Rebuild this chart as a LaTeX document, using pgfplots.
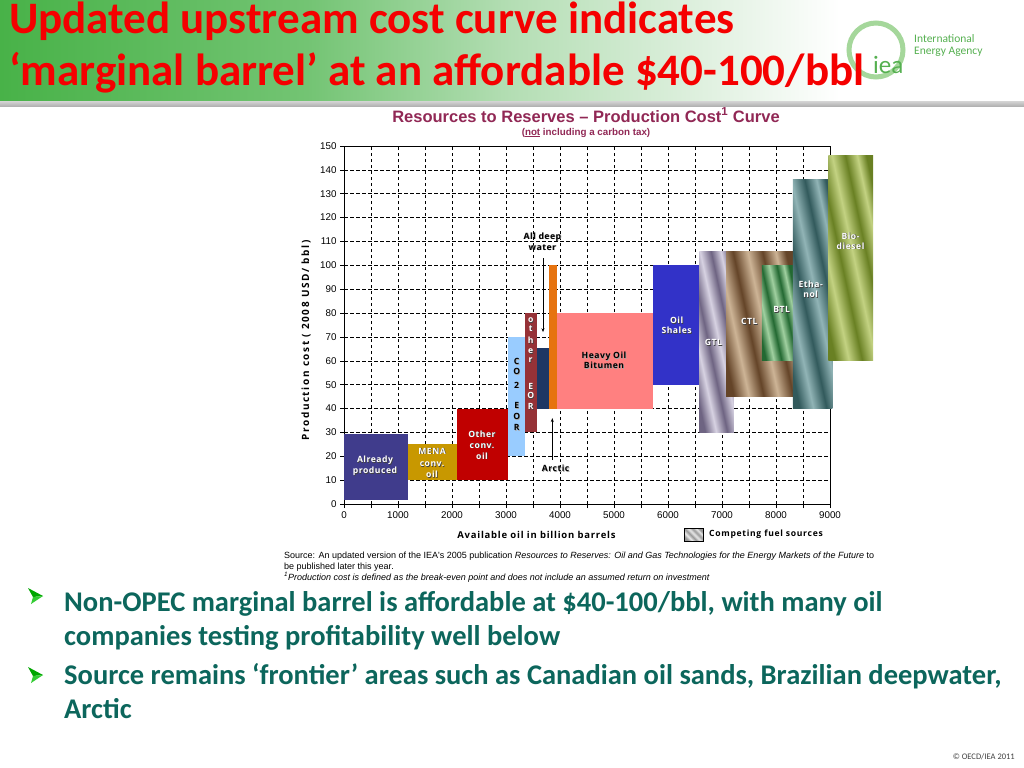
\documentclass[border=0pt]{standalone}
\usepackage{fontspec}
\setmainfont{Carlito}
\newfontfamily\arial{Liberation Sans}
\newfontfamily\osans{Open Sans}
\newfontfamily\osansls[LetterSpace=6]{Open Sans}
\newfontfamily\osansly[LetterSpace=16]{Open Sans}
\newfontfamily\osanslx[LetterSpace=8]{Open Sans}
\usepackage{pgfplots}
\pgfplotsset{compat=1.18}
\usetikzlibrary{arrows.meta}

\definecolor{hg}{RGB}{72,178,72}
\definecolor{hgb}{RGB}{115,196,115}
\definecolor{hgc}{RGB}{180,222,180}
\definecolor{hgd}{RGB}{236,246,236}
\definecolor{titlered}{RGB}{245,0,0}
\definecolor{bullet}{RGB}{12,102,92}
\definecolor{ctitle}{RGB}{145,40,85}
\definecolor{ieagreen}{RGB}{85,176,80}
\definecolor{ring}{RGB}{165,215,155}
\definecolor{cAP}{RGB}{64,60,140}
\definecolor{cMENA}{RGB}{200,152,0}
\definecolor{cOCO}{RGB}{192,0,0}
\definecolor{cCO2}{RGB}{153,204,255}
\definecolor{cOEOR}{RGB}{150,50,55}
\definecolor{cDW}{RGB}{30,55,100}
\definecolor{cARC}{RGB}{230,115,15}
\definecolor{cHOB}{RGB}{255,128,128}
\definecolor{cOS}{RGB}{50,50,200}
\definecolor{gtlA}{RGB}{110,100,130}\definecolor{gtlB}{RGB}{215,210,226}
\definecolor{ctlA}{RGB}{100,68,40}\definecolor{ctlB}{RGB}{205,180,150}
\definecolor{btlA}{RGB}{35,105,50}\definecolor{btlB}{RGB}{160,208,160}
\definecolor{ethA}{RGB}{50,90,92}\definecolor{ethB}{RGB}{145,180,182}
\definecolor{bioA}{RGB}{105,128,35}\definecolor{bioB}{RGB}{195,210,130}
\definecolor{grA}{RGB}{150,150,150}\definecolor{grB}{RGB}{235,235,235}

\newcommand{\stripes}[3]{\pgfdeclarehorizontalshading{#1}{100bp}{color(0bp)=(#2); color(25bp)=(#2); color(34bp)=(#3); color(43bp)=(#2); color(52bp)=(#3); color(61bp)=(#2); color(69bp)=(#3); color(75bp)=(#2); color(100bp)=(#2)}}
\stripes{gtl}{gtlA}{gtlB}
\stripes{ctl}{ctlA}{ctlB}
\stripes{btl}{btlA}{btlB}
\stripes{eth}{ethA}{ethB}
\stripes{bio}{bioA}{bioB}
\stripes{grs}{grA}{grB}
\pgfdeclarehorizontalshading{hdr}{100bp}{color(0bp)=(hg); color(25bp)=(hg); color(40bp)=(hgb); color(50bp)=(hgc); color(62bp)=(hgd); color(66bp)=(white); color(100bp)=(white)}

\newcommand{\lblfont}{\osansls\bfseries\fontsize{8.6bp}{11bp}\selectfont}
% white label with dark shadow
\newcommand{\wl}[3]{\node[font=\lblfont, text=black!75, align=center, xshift=0.7bp, yshift=-0.7bp] at (axis cs:#1,#2) {#3};
\node[font=\lblfont, text=white, align=center] at (axis cs:#1,#2) {#3};}
% dark label with light shadow
\newcommand{\dl}[3]{\node[font=\lblfont, text=black!35, align=center, xshift=0.7bp, yshift=-0.7bp] at (axis cs:#1,#2) {#3};
\node[font=\lblfont, text=black, align=center] at (axis cs:#1,#2) {#3};}

\begin{document}
\begin{tikzpicture}
\begin{scope}[x=1bp,y=-1bp]
\useasboundingbox (0,0) rectangle (1024,768);
\fill[white] (0,0) rectangle (1024,768);
\shade[shading=hdr] (0,0) rectangle (1024,102);
\shade[top color=black!18, bottom color=black!30] (0,101.5) rectangle (1024,106);
% logo
\draw[line width=5bp, ring] (876,50) circle (27);
\node[anchor=base west, text=ieagreen, inner sep=0, font=\fontsize{25bp}{25bp}\selectfont] at (873,74) {iea};
\node[anchor=base west, text=ieagreen, inner sep=0, font=\fontsize{11.5bp}{11.5bp}\selectfont] at (914,43) {International};
\node[anchor=base west, text=ieagreen, inner sep=0, font=\fontsize{11.5bp}{11.5bp}\selectfont] at (914,55) {Energy Agency};
% title
\node[anchor=base west, inner sep=0, text=titlered, font=\bfseries\fontsize{45bp}{45bp}\selectfont] at (9,33.5) {Updated upstream cost curve indicates};
\node[anchor=base west, inner sep=0, text=titlered, font=\bfseries\fontsize{45bp}{45bp}\selectfont] at (9,86) {‘marginal barrel’ at an affordable \$40-100/bbl};
% chart title
\node[anchor=base, inner sep=0, text=ctitle, font=\arial\bfseries\fontsize{16.5bp}{16.5bp}\selectfont] at (586,122) {Resources to Reserves – Production Cost\textsuperscript{1} Curve};
\node[anchor=base, inner sep=0, text=ctitle, font=\arial\bfseries\fontsize{9.8bp}{9.8bp}\selectfont] at (586,135) {(\underline{not} including a carbon tax)};
% legend
\shade[shading=grs, shading angle=45] (684,528) rectangle (703,541);
\draw[black, line width=0.7bp] (684,528) rectangle (703,541);
\node[anchor=west, inner sep=0, font=\osanslx\bfseries\fontsize{8.6bp}{8.6bp}\selectfont] at (709,534.5) {Competing fuel sources};
% source
\node[anchor=base west, inner sep=0, font=\arial\fontsize{9bp}{9bp}\selectfont] at (284,558) {Source: An updated version of the IEA's 2005 publication \textit{Resources to Reserves: Oil and Gas Technologies for the Energy Markets of the Future} to};
\node[anchor=base west, inner sep=0, font=\arial\fontsize{9bp}{9bp}\selectfont] at (284,569) {be published later this year.};
\node[anchor=base west, inner sep=0, font=\arial\itshape\fontsize{9bp}{9bp}\selectfont] at (284,580) {\textsuperscript{1}Production cost is defined as the break-even point and does not include an assumed return on investment};
% bullets
\foreach \yy in {596,675}{
\fill[green!65!black] (28,\yy-8) -- (43,\yy) -- (33,\yy+1) -- cycle;
\fill[green!75!black!80!white] (33,\yy+1) -- (43,\yy) -- (31,\yy+8) -- cycle;
}
\node[anchor=base west, inner sep=0, text=bullet, font=\bfseries\fontsize{28.5bp}{28.5bp}\selectfont] at (64,611) {Non-OPEC marginal barrel is affordable at \$40-100/bbl, with many oil};
\node[anchor=base west, inner sep=0, text=bullet, font=\bfseries\fontsize{28.5bp}{28.5bp}\selectfont] at (64,645) {companies testing profitability well below};
\node[anchor=base west, inner sep=0, text=bullet, font=\bfseries\fontsize{28.5bp}{28.5bp}\selectfont] at (64,684) {Source remains ‘frontier’ areas such as Canadian oil sands, Brazilian deepwater,};
\node[anchor=base west, inner sep=0, text=bullet, font=\bfseries\fontsize{28.5bp}{28.5bp}\selectfont] at (64,718) {Arctic};
\node[anchor=base east, inner sep=0, text=black!75, font=\fontsize{8.5bp}{8.5bp}\selectfont] at (1015,759) {© OECD/IEA 2011};
\end{scope}

\begin{axis}[at={(344bp,-504bp)}, anchor=south west, scale only axis,
  width=486bp, height=358bp, xmin=0, xmax=9000, ymin=0, ymax=150,
  clip=false, scaled ticks=false,
  xtick={0,1000,...,9000}, minor xtick={500,1500,...,8500},
  ytick={0,10,...,150},
  xtick pos=left, ytick pos=left,
  grid=both,
  major grid style={black, dash pattern=on 3.5bp off 2.5bp, line width=0.5bp},
  minor grid style={black, dash pattern=on 3.5bp off 2.5bp, line width=0.5bp},
  axis line style={black, line width=0.8bp},
  tick style={black, line width=0.6bp},
  tick align=outside, major tick length=4bp, minor tick length=4bp,
  ticklabel style={font=\arial\fontsize{9.8bp}{9.8bp}\selectfont},
  /pgf/number format/assume math mode=true,
  /pgf/number format/set thousands separator={},
  xlabel={Available oil in billion barrels},
  ylabel={Production cost ( 2008 USD/ bbl)},
  xlabel style={font=\osanslx\bfseries\fontsize{9.5bp}{9.5bp}\selectfont, at={(axis description cs:0.396,-0.0866)}, anchor=center},
  ylabel style={font=\osansly\bfseries\fontsize{10bp}{10bp}\selectfont, at={(axis description cs:-0.078,0.457)}, anchor=center},
]
\addplot[draw=none, fill=cAP] coordinates {(0,1.5) (1180,1.5) (1180,29.5) (0,29.5)} -- cycle;
\addplot[draw=none, fill=cMENA] coordinates {(1180,10) (2100,10) (2100,25) (1180,25)} -- cycle;
\addplot[draw=none, fill=cOCO] coordinates {(2100,10) (3040,10) (3040,40) (2100,40)} -- cycle;
\addplot[draw=none, fill=cCO2] coordinates {(3040,20) (3360,20) (3360,70) (3040,70)} -- cycle;
\addplot[draw=none, fill=cOEOR] coordinates {(3360,30) (3570,30) (3570,80) (3360,80)} -- cycle;
\addplot[draw=none, fill=cDW] coordinates {(3570,40) (3800,40) (3800,65.5) (3570,65.5)} -- cycle;
\addplot[draw=none, fill=cARC] coordinates {(3800,40) (3945,40) (3945,100) (3800,100)} -- cycle;
\addplot[draw=none, fill=cHOB] coordinates {(3945,40) (5720,40) (5720,80) (3945,80)} -- cycle;
\addplot[draw=none, fill=cOS] coordinates {(5720,50) (6590,50) (6590,100) (5720,100)} -- cycle;
\addplot[draw=none, shade, shading=gtl, shading angle=12] coordinates {(6580,30) (7220,30) (7220,106) (6580,106)} -- cycle;
\addplot[draw=none, shade, shading=ctl, shading angle=12] coordinates {(7075,45) (8320,45) (8320,106) (7075,106)} -- cycle;
\addplot[draw=none, shade, shading=btl, shading angle=12] coordinates {(7740,60) (8310,60) (8310,100) (7740,100)} -- cycle;
\addplot[draw=none, shade, shading=eth, shading angle=12] coordinates {(8310,40) (9045,40) (9045,136) (8310,136)} -- cycle;
\addplot[draw=none, shade, shading=bio, shading angle=12] coordinates {(8970,60) (9800,60) (9800,146) (8970,146)} -- cycle;

\wl{574}{16}{Already\\produced}
\wl{1630}{17.2}{MENA\\[1.5bp]conv.\\oil}
\wl{2555}{24.7}{Other\\conv.\\oil}
\dl{3198}{59.6}{C}\dl{3198}{55.4}{O}\dl{3198}{49.8}{2}
\dl{3198}{41.2}{E}\dl{3198}{36.6}{O}\dl{3198}{32.1}{R}
\wl{3457}{77.1}{o}\wl{3457}{73.6}{t}\wl{3457}{68.7}{h}\wl{3457}{64.1}{e}\wl{3457}{60.3}{r}
\wl{3457}{49.2}{E}\wl{3457}{45.3}{O}\wl{3457}{40.8}{R}
\dl{3673}{110}{All deep\\water}
\draw[-{Stealth[length=4bp,width=3bp]}, line width=0.7bp] (axis cs:3685,103) -- (axis cs:3685,72);
\draw[-{Stealth[length=4bp,width=3bp]}, line width=0.7bp] (axis cs:3857,18.4) -- (axis cs:3857,36);
\dl{3920}{15}{Arctic}
\dl{4815}{60.3}{Heavy Oil\\[-1bp]Bitumen}
\wl{6160}{74.7}{Oil\\[-1bp]Shales}
\wl{6840}{67.7}{GTL}
\wl{7506}{76.4}{CTL}
\wl{8105}{81.6}{BTL}
\wl{8642}{90}{Etha-\\[-1bp]nol}
\wl{9380}{110.2}{Bio-\\[-1bp]diesel}
\end{axis}
\end{tikzpicture}
\end{document}
